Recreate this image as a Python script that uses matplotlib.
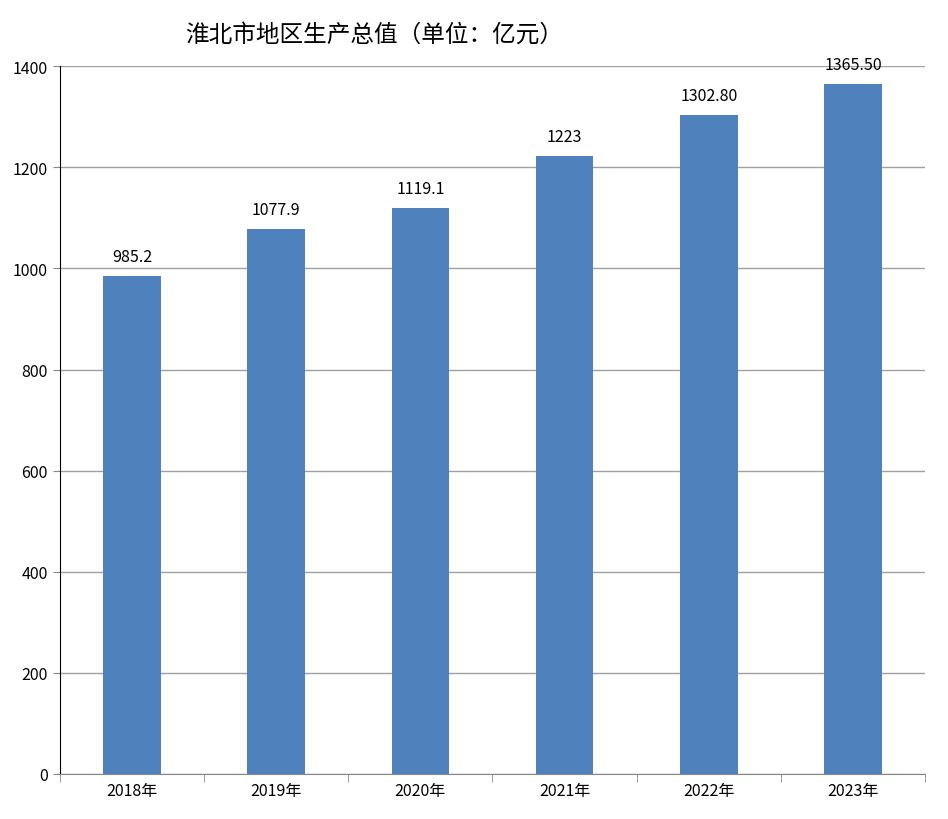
import matplotlib.pyplot as plt
import numpy as np

plt.rcParams['font.family'] = ['Noto Sans CJK SC']

years = ['2018年', '2019年', '2020年', '2021年', '2022年', '2023年']
gdp = [985.2, 1077.9, 1119.1, 1223, 1302.8, 1365.5]
value_labels = ['985.2', '1077.9', '1119.1', '1223', '1302.80', '1365.50']

fig = plt.figure(figsize=(9.48, 8.2), dpi=100)
ax = fig.add_axes([0.063, 0.055, 0.913, 0.863])

x = np.arange(len(years))
ax.bar(x, gdp, width=0.4, color='#4f81bd', zorder=3)
for xi, v, lab in zip(x, gdp, value_labels):
    ax.text(xi, v + 22, lab, ha='center', va='bottom', fontsize=11.5)

ax.set_xlim(-0.5, len(years) - 0.5)
ax.set_ylim(0, 1400)
ax.set_yticks(range(0, 1401, 200))
ax.yaxis.grid(True, color='#a0a0a0', linewidth=1, zorder=0)
ax.set_xticks(x)
ax.set_xticklabels(years, fontsize=11.5)
ax.tick_params(axis='x', length=0, pad=6)
ax.set_xticks(np.arange(-0.5, len(years)), minor=True)
ax.tick_params(axis='x', which='minor', length=6, color='#888888')
ax.tick_params(axis='y', labelsize=11.5, length=5, color='#888888')
for s in ['top', 'right']:
    ax.spines[s].set_visible(False)
ax.spines['left'].set_color('black')
ax.spines['bottom'].set_color('#888888')

fig.text(0.395, 0.957, '淮北市地区生产总值（单位：亿元）', ha='center', va='center', fontsize=17)

fig.savefig('out.png')
